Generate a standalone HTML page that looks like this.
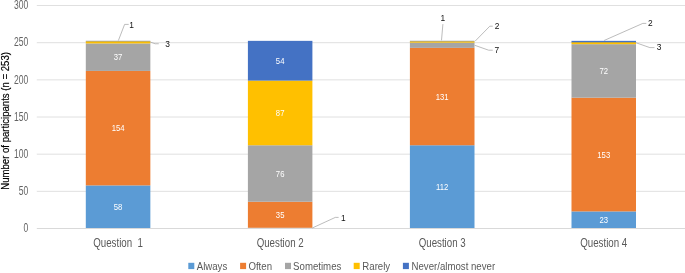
<!DOCTYPE html>
<html lang="en"><head><meta charset="utf-8"><title>Chart</title>
<style>
html,body{margin:0;padding:0;background:#fff}
body{width:685px;height:273px;overflow:hidden}
svg{display:block}
text{font-family:"Liberation Sans",Arial,sans-serif}
.ax{font-size:11.7px;fill:#595959}
.tk{font-size:12.2px;fill:#636363}
.ct{font-size:12.2px;fill:#595959}
.ti{font-size:11.7px;fill:#000;stroke:#000;stroke-width:0.2px}
.dl{font-size:8.4px;fill:#fff}
.cl{font-size:8.4px;fill:#111}
</style></head>
<body>
<svg width="685" height="273" viewBox="0 0 685 273">
<rect width="685" height="273" fill="#fff"/>
<line x1="36.8" x2="685" y1="191.34" y2="191.34" stroke="#DCDCDC" stroke-width="0.9"/>
<line x1="36.8" x2="685" y1="154.17" y2="154.17" stroke="#DCDCDC" stroke-width="0.9"/>
<line x1="36.8" x2="685" y1="117.01" y2="117.01" stroke="#DCDCDC" stroke-width="0.9"/>
<line x1="36.8" x2="685" y1="79.84" y2="79.84" stroke="#DCDCDC" stroke-width="0.9"/>
<line x1="36.8" x2="685" y1="42.68" y2="42.68" stroke="#DCDCDC" stroke-width="0.9"/>
<line x1="36.8" x2="685" y1="5.51" y2="5.51" stroke="#DCDCDC" stroke-width="0.9"/>
<text class="tk" text-anchor="end" transform="translate(28.3,232.25) scale(0.7,1)">0</text>
<text class="tk" text-anchor="end" transform="translate(28.3,195.09) scale(0.7,1)">50</text>
<text class="tk" text-anchor="end" transform="translate(28.3,157.92) scale(0.7,1)">100</text>
<text class="tk" text-anchor="end" transform="translate(28.3,120.76) scale(0.7,1)">150</text>
<text class="tk" text-anchor="end" transform="translate(28.3,83.59) scale(0.7,1)">200</text>
<text class="tk" text-anchor="end" transform="translate(28.3,46.43) scale(0.7,1)">250</text>
<text class="tk" text-anchor="end" transform="translate(28.3,9.26) scale(0.7,1)">300</text>
<text class="ti" text-anchor="middle" transform="translate(8.6,120.9) rotate(-90) scale(0.82,0.9)">Number of participants (n = 253)</text>
<rect x="85.80" y="185.39" width="64.55" height="43.11" fill="#5B9BD5"/>
<rect x="85.80" y="70.92" width="64.55" height="114.47" fill="#ED7D31"/>
<rect x="85.80" y="43.42" width="64.55" height="27.50" fill="#A5A5A5"/>
<rect x="85.80" y="41.19" width="64.55" height="2.23" fill="#FFC000"/>
<rect x="85.80" y="40.45" width="64.55" height="0.74" fill="#7F8CA8" fill-opacity="0.4"/>
<rect x="85.80" y="41.19" width="64.55" height="0.90" fill="#4472C4" fill-opacity="0.3"/>
<rect x="247.90" y="227.76" width="64.50" height="0.74" fill="#5B9BD5"/>
<rect x="247.90" y="201.74" width="64.50" height="26.02" fill="#ED7D31"/>
<rect x="247.90" y="145.25" width="64.50" height="56.49" fill="#A5A5A5"/>
<rect x="247.90" y="80.58" width="64.50" height="64.67" fill="#FFC000"/>
<rect x="247.90" y="40.85" width="64.50" height="39.74" fill="#4472C4"/>
<rect x="409.90" y="145.25" width="64.60" height="83.25" fill="#5B9BD5"/>
<rect x="409.90" y="47.88" width="64.60" height="97.37" fill="#ED7D31"/>
<rect x="409.90" y="42.68" width="64.60" height="5.20" fill="#A5A5A5"/>
<rect x="409.90" y="41.19" width="64.60" height="1.49" fill="#FFC000"/>
<rect x="409.90" y="40.45" width="64.60" height="0.74" fill="#7F8CA8" fill-opacity="0.4"/>
<rect x="409.90" y="41.19" width="64.60" height="0.90" fill="#4472C4" fill-opacity="0.3"/>
<rect x="571.50" y="211.40" width="64.50" height="17.10" fill="#5B9BD5"/>
<rect x="571.50" y="97.68" width="64.50" height="113.72" fill="#ED7D31"/>
<rect x="571.50" y="44.16" width="64.50" height="53.52" fill="#A5A5A5"/>
<rect x="571.50" y="41.93" width="64.50" height="2.23" fill="#FFC000"/>
<rect x="571.50" y="40.85" width="64.50" height="1.49" fill="#4472C4"/>
<line x1="36.8" x2="685" y1="228.50" y2="228.50" stroke="#D9D9D9" stroke-width="1"/>
<text class="dl" text-anchor="middle" transform="translate(118.07,209.94) scale(0.92,1)">58</text>
<text class="dl" text-anchor="middle" transform="translate(118.07,131.15) scale(0.92,1)">154</text>
<text class="dl" text-anchor="middle" transform="translate(118.07,60.17) scale(0.92,1)">37</text>
<text class="dl" text-anchor="middle" transform="translate(280.15,217.75) scale(0.92,1)">35</text>
<text class="dl" text-anchor="middle" transform="translate(280.15,176.50) scale(0.92,1)">76</text>
<text class="dl" text-anchor="middle" transform="translate(280.15,115.92) scale(0.92,1)">87</text>
<text class="dl" text-anchor="middle" transform="translate(280.15,63.51) scale(0.92,1)">54</text>
<text class="dl" text-anchor="middle" transform="translate(442.20,189.88) scale(0.92,1)">112</text>
<text class="dl" text-anchor="middle" transform="translate(442.20,99.56) scale(0.92,1)">131</text>
<text class="dl" text-anchor="middle" transform="translate(603.75,222.95) scale(0.92,1)">23</text>
<text class="dl" text-anchor="middle" transform="translate(603.75,157.54) scale(0.92,1)">153</text>
<text class="dl" text-anchor="middle" transform="translate(603.75,73.92) scale(0.92,1)">72</text>
<polyline fill="none" stroke="#A6A6A6" stroke-width="0.75" points="118.40,40.50 124.60,24.40 128.70,24.40"/>
<text class="cl" text-anchor="middle" transform="translate(131.60,27.80) scale(1.0,1)">1</text>
<polyline fill="none" stroke="#A6A6A6" stroke-width="0.75" points="150.20,42.00 155.10,43.75 158.75,43.75"/>
<text class="cl" text-anchor="middle" transform="translate(167.70,47.20) scale(1.0,1)">3</text>
<polyline fill="none" stroke="#A6A6A6" stroke-width="0.75" points="312.30,228.00 335.30,217.40 338.60,217.40"/>
<text class="cl" text-anchor="middle" transform="translate(343.30,220.90) scale(1.0,1)">1</text>
<polyline fill="none" stroke="#A6A6A6" stroke-width="0.75" points="441.50,40.30 442.90,24.10"/>
<text class="cl" text-anchor="middle" transform="translate(442.90,21.20) scale(1.0,1)">1</text>
<polyline fill="none" stroke="#A6A6A6" stroke-width="0.75" points="475.20,41.10 489.80,26.20 492.75,26.20"/>
<text class="cl" text-anchor="middle" transform="translate(497.20,29.20) scale(1.0,1)">2</text>
<polyline fill="none" stroke="#A6A6A6" stroke-width="0.75" points="474.60,45.25 488.65,50.20 492.75,50.20"/>
<text class="cl" text-anchor="middle" transform="translate(496.90,53.00) scale(1.0,1)">7</text>
<polyline fill="none" stroke="#A6A6A6" stroke-width="0.75" points="604.10,40.50 642.80,23.40 646.30,23.40"/>
<text class="cl" text-anchor="middle" transform="translate(650.30,25.90) scale(1.0,1)">2</text>
<polyline fill="none" stroke="#A6A6A6" stroke-width="0.75" points="635.80,42.70 649.85,47.60 654.50,47.60"/>
<text class="cl" text-anchor="middle" transform="translate(659.20,50.00) scale(1.0,1)">3</text>
<text class="ct" xml:space="preserve" text-anchor="middle" transform="translate(118.07,247.0) scale(0.797,1)">Question  1</text>
<text class="ct" xml:space="preserve" text-anchor="middle" transform="translate(280.15,247.0) scale(0.797,1)">Question 2</text>
<text class="ct" xml:space="preserve" text-anchor="middle" transform="translate(442.20,247.0) scale(0.797,1)">Question 3</text>
<text class="ct" xml:space="preserve" text-anchor="middle" transform="translate(603.75,247.0) scale(0.797,1)">Question 4</text>
<rect x="188.30" y="262.8" width="6" height="6.3" fill="#5B9BD5"/>
<text class="ax" transform="translate(196.70,269.5) scale(0.825,1)">Always</text>
<rect x="240.10" y="262.8" width="6" height="6.3" fill="#ED7D31"/>
<text class="ax" transform="translate(248.40,269.5) scale(0.825,1)">Often</text>
<rect x="285.00" y="262.8" width="6" height="6.3" fill="#A5A5A5"/>
<text class="ax" transform="translate(293.10,269.5) scale(0.825,1)">Sometimes</text>
<rect x="353.70" y="262.8" width="6" height="6.3" fill="#FFC000"/>
<text class="ax" transform="translate(362.30,269.5) scale(0.825,1)">Rarely</text>
<rect x="402.90" y="262.8" width="6" height="6.3" fill="#4472C4"/>
<text class="ax" transform="translate(411.50,269.5) scale(0.825,1)">Never/almost never</text>
</svg>
</body></html>
